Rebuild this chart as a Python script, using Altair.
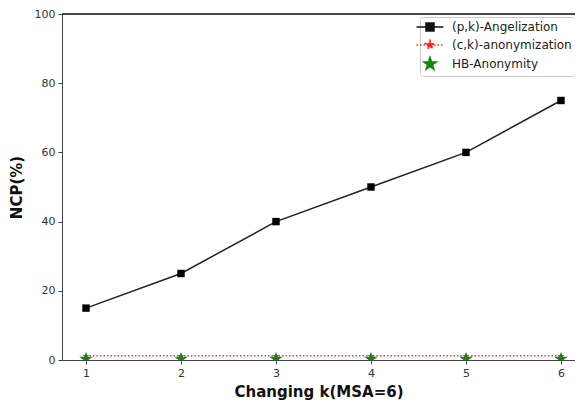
import math
import altair as alt
import pandas as pd

# ---- data ----
k_values = [1, 2, 3, 4, 5, 6]
pk_angel = [15, 25, 40, 50, 60, 75]
ck_anon = [1.2, 1.2, 1.2, 1.2, 1.2, 1.2]
hb_anon = [0.5, 0.5, 0.5, 0.5, 0.5, 0.5]
series_names = ["(p,k)-Angelization", "(c,k)-anonymization", "HB-Anonymity"]
y_ticks = [0, 20, 40, 60, 80, 100]

df_pk = pd.DataFrame({"k": k_values, "v": pk_angel})
df_ck = pd.DataFrame({"k": k_values, "v": ck_anon})
df_hb = pd.DataFrame({"k": k_values, "v": hb_anon})
df_leg = pd.DataFrame({"k": [1, 1, 1], "v": [50, 50, 50], "s": series_names})

FONT = "DejaVu Sans"


def star_path(r_out, r_in, dy=0.0):
    pts = []
    for i in range(10):
        r = r_out if i % 2 == 0 else r_in
        a = -math.pi / 2 + i * math.pi / 5
        pts.append(f"{r * math.cos(a):.3f},{r * math.sin(a) + dy:.3f}")
    return "M" + "L".join(pts) + "Z"


STAR = star_path(1.0, 0.4, 0.1)

seg = "M-2.25,0L2.25,0"
sq = "M-0.67,-0.67L0.67,-0.67L0.67,0.67L-0.67,0.67Z"
leg_shapes = [seg + sq, seg + star_path(0.75, 0.3), star_path(1.1, 0.44)]
leg_colors = ["#111111", "#ff2020", "#118811"]
leg_dash = [[1, 0], [1.5, 2], [1, 0]]

PLOT_W = 513
PLOT_H = 346
xsc = alt.Scale(domain=[0.7474, 0.7474 + PLOT_W / 95.0], nice=False, zero=False)
ysc = alt.Scale(domain=[0, 100], nice=False)

x_enc = alt.X("k:Q", scale=xsc, axis=alt.Axis(
    values=k_values, format="d", title="Changing k(MSA=6)", grid=False,
    labelFont=FONT, labelFontSize=11, labelColor="#333333",
    titleFont=FONT, titleFontSize=15, titleFontWeight="bold", titleColor="#111111",
    tickSize=4, tickColor="#444444", domainColor="#444444", labelPadding=3, titlePadding=6))
y_enc = alt.Y("v:Q", scale=ysc, axis=alt.Axis(
    values=y_ticks, title="NCP(%)", grid=False,
    labelFont=FONT, labelFontSize=11, labelColor="#333333",
    titleFont=FONT, titleFontSize=15, titleFontWeight="bold", titleColor="#111111",
    tickSize=4, tickColor="#444444", domainColor="#444444", labelPadding=3, titlePadding=10))

top_rule = alt.Chart(df_pk).mark_rule(color="#444444", strokeWidth=1).encode(y=alt.datum(100))

pk_line = alt.Chart(df_pk).mark_line(color="#222222", strokeWidth=1.5).encode(x=x_enc, y=y_enc)
pk_pts = alt.Chart(df_pk).mark_point(shape="square", filled=True, color="#000000", size=55, opacity=1).encode(x="k:Q", y="v:Q")
ck_line = alt.Chart(df_ck).mark_line(color="#ff3030", strokeWidth=1.5, strokeDash=[1.5, 2]).encode(x="k:Q", y="v:Q")
ck_pts = alt.Chart(df_ck).mark_point(shape=STAR, filled=True, color="#ff2020", size=49, opacity=1).encode(x="k:Q", y="v:Q")
hb_pts = alt.Chart(df_hb).mark_point(shape=STAR, filled=True, color="#118811", size=200, opacity=1, clip=True).encode(x="k:Q", y="v:Q")

sdom = alt.Scale(domain=series_names, range=leg_colors)
legend = alt.Legend(
    title=None, orient="none", legendX=358, legendY=3,
    labelFont=FONT, labelFontSize=12, labelColor="#222222",
    symbolSize=144, symbolStrokeWidth=1.5, symbolOpacity=1,
    labelOffset=15, rowPadding=2, padding=3,
    strokeColor="#cccccc", cornerRadius=3, fillColor="white")
leg_layer = alt.Chart(df_leg).mark_point(filled=True, opacity=0, size=144).encode(
    x="k:Q", y="v:Q",
    fill=alt.Fill("s:N", scale=sdom, legend=legend, sort=series_names),
    stroke=alt.Stroke("s:N", scale=sdom, legend=legend, sort=series_names),
    shape=alt.Shape("s:N", scale=alt.Scale(domain=series_names, range=leg_shapes), legend=legend, sort=series_names),
    strokeDash=alt.StrokeDash("s:N", scale=alt.Scale(domain=series_names, range=leg_dash), legend=legend, sort=series_names),
)

chart = alt.layer(pk_line, top_rule, pk_pts, ck_line, ck_pts, hb_pts, leg_layer).properties(
    width=PLOT_W, height=PLOT_H,
    autosize=alt.AutoSizeParams(type="none"),
    padding={"left": 54, "top": 6, "right": 0, "bottom": 40},
    background="white",
).configure_view(stroke=None)

chart.save("out.html", embed_options={"renderer": "svg", "actions": False})
